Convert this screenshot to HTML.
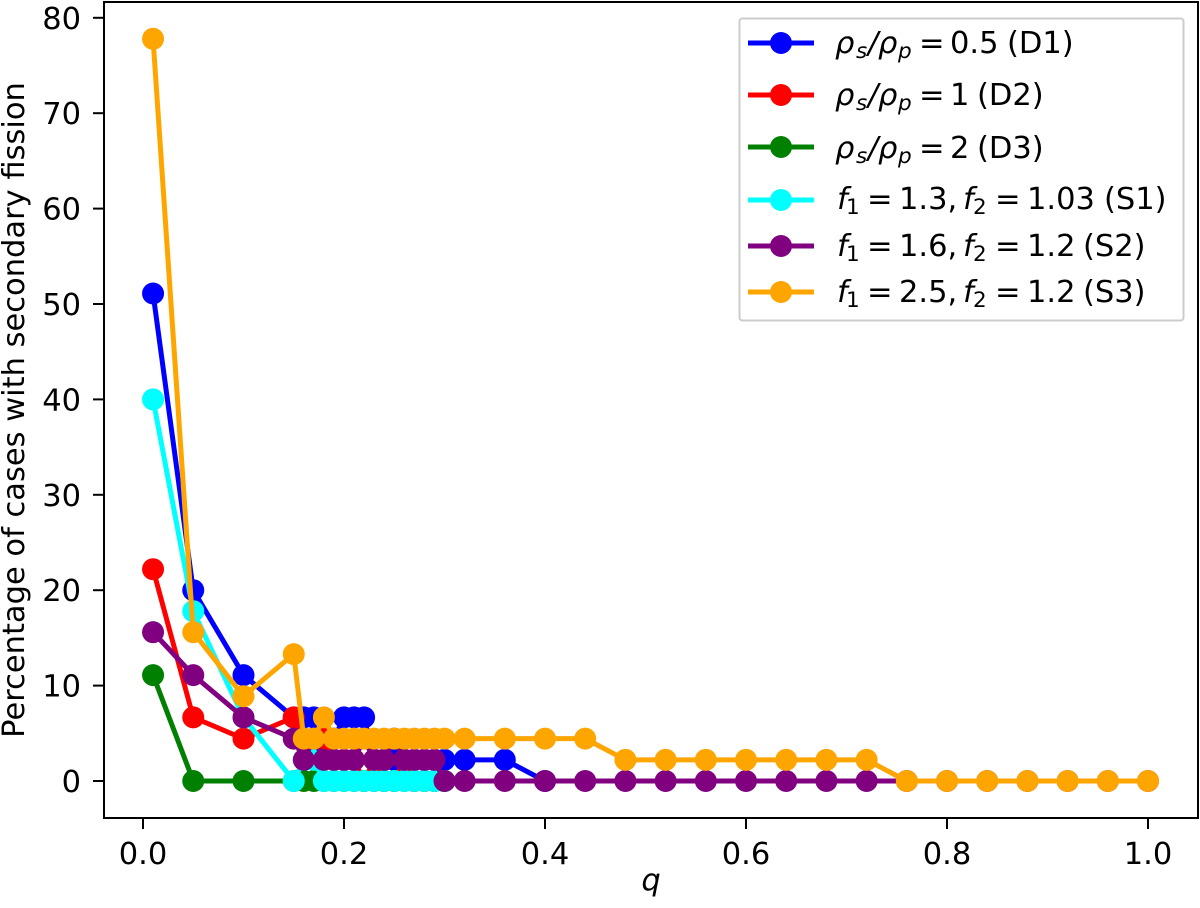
<!DOCTYPE html>
<html>
<head>
<meta charset="utf-8">
<style>
html,body{margin:0;padding:0;background:#fff;}
svg{display:block;}
text{font-family:"DejaVu Sans","Liberation Sans",sans-serif;fill:#000;}
.it{font-style:italic;}
</style>
</head>
<body>
<svg id="chart" width="1200" height="908" viewBox="0 0 1200 908" xmlns="http://www.w3.org/2000/svg">
<g id="series-layer"></g>
<g id="axes-layer"></g>
<text x="651" y="890" font-size="30.5" class="it" text-anchor="middle">q</text>
<text transform="translate(24,410) rotate(-90)" font-size="30.5" text-anchor="middle">Percentage of cases with secondary fission</text>
<g>
<rect x="739.5" y="18.5" width="444" height="302" rx="3" fill="#fff" fill-opacity="0.8" stroke="#ccc" stroke-width="2"/>
<g id="legend-handles"></g>
<text y="53" font-size="30.5"><tspan class="it" x="835">ρ</tspan><tspan class="it" font-size="21.5" x="856" dy="5">s</tspan><tspan x="868" dy="-5" class="it">/</tspan><tspan class="it" x="878">ρ</tspan><tspan class="it" font-size="21.5" x="898" dy="5">p</tspan><tspan x="919" dy="-5">=</tspan><tspan x="950">0.5</tspan><tspan x="1007">(D1)</tspan></text>
<text y="105" font-size="30.5"><tspan class="it" x="835">ρ</tspan><tspan class="it" font-size="21.5" x="856" dy="5">s</tspan><tspan x="868" dy="-5" class="it">/</tspan><tspan class="it" x="878">ρ</tspan><tspan class="it" font-size="21.5" x="898" dy="5">p</tspan><tspan x="919" dy="-5">=</tspan><tspan x="950">1</tspan><tspan x="977">(D2)</tspan></text>
<text y="158" font-size="30.5"><tspan class="it" x="835">ρ</tspan><tspan class="it" font-size="21.5" x="856" dy="5">s</tspan><tspan x="868" dy="-5" class="it">/</tspan><tspan class="it" x="878">ρ</tspan><tspan class="it" font-size="21.5" x="898" dy="5">p</tspan><tspan x="919" dy="-5">=</tspan><tspan x="950">2</tspan><tspan x="977">(D3)</tspan></text>
<text y="209" font-size="30.5"><tspan class="it" x="837">f</tspan><tspan font-size="21.5" x="846" dy="5">1</tspan><tspan x="867" dy="-5">=</tspan><tspan x="899">1.3,</tspan><tspan class="it" x="963">f</tspan><tspan font-size="21.5" x="973" dy="5">2</tspan><tspan x="995" dy="-5">=</tspan><tspan x="1027">1.03</tspan><tspan x="1104">(S1)</tspan></text>
<text y="256" font-size="30.5"><tspan class="it" x="837">f</tspan><tspan font-size="21.5" x="846" dy="5">1</tspan><tspan x="867" dy="-5">=</tspan><tspan x="899">1.6,</tspan><tspan class="it" x="963">f</tspan><tspan font-size="21.5" x="973" dy="5">2</tspan><tspan x="995" dy="-5">=</tspan><tspan x="1027">1.2</tspan><tspan x="1083">(S2)</tspan></text>
<text y="302" font-size="30.5"><tspan class="it" x="837">f</tspan><tspan font-size="21.5" x="846" dy="5">1</tspan><tspan x="867" dy="-5">=</tspan><tspan x="899">2.5,</tspan><tspan class="it" x="963">f</tspan><tspan font-size="21.5" x="973" dy="5">2</tspan><tspan x="995" dy="-5">=</tspan><tspan x="1027">1.2</tspan><tspan x="1083">(S3)</tspan></text>
</g>
</svg>
<script>
const xTickLabels = ["0.0","0.2","0.4","0.6","0.8","1.0"];
const yTickLabels = ["0","10","20","30","40","50","60","70","80"];

const seriesNames = ["d1","d2","d3","s1","s2","s3"];
const seriesColors = ["blue","red","green","cyan","purple","orange"];

const qShort = [0.01,0.05,0.1,0.15,0.16,0.17,0.18,0.19,0.2,0.21,0.22,0.23,0.24,0.25,0.26,0.27,0.28,0.29,0.3];
const qD1 = [0.01,0.05,0.1,0.15,0.16,0.17,0.18,0.19,0.2,0.21,0.22,0.23,0.24,0.25,0.26,0.27,0.28,0.29,0.3,0.32,0.36,0.4];
const qFull = [0.01,0.05,0.1,0.15,0.16,0.17,0.18,0.19,0.2,0.21,0.22,0.23,0.24,0.25,0.26,0.27,0.28,0.29,0.3,0.32,0.36,0.4,0.44,0.48,0.52,0.56,0.6,0.64,0.68,0.72,0.76,0.8,0.84,0.88,0.92,0.96,1.0];

const valuesD1 = [51.1,20,11.1,6.67,6.67,6.67,4.44,4.44,6.67,6.67,6.67,2.22,2.22,2.22,2.22,2.22,2.22,2.22,2.22,2.22,2.22,0];
const valuesD2 = [22.2,6.67,4.44,6.67,4.44,4.44,4.44,2.22,2.22,2.22,0,2.22,0,0,2.22,0,0,0,0];
const valuesD3 = [11.1,0,0,0,0,0,0,0,0,0,0,0,0,0,0,0,0,0,0];
const valuesS1 = [40,17.8,6.67,0,2.22,2.22,0,0,0,0,0,0,0,0,0,0,0,0,0];
const valuesS2 = [15.6,11.1,6.67,4.44,2.22,4.44,2.22,2.22,2.22,2.22,4.44,2.22,2.22,4.44,2.22,2.22,2.22,2.22,0,0,0,0,0,0,0,0,0,0,0,0,0,0,0,0,0,0,0];
const valuesS3 = [77.8,15.6,8.89,13.3,4.44,4.44,6.67,4.44,4.44,4.44,4.44,4.44,4.44,4.44,4.44,4.44,4.44,4.44,4.44,4.44,4.44,4.44,4.44,2.22,2.22,2.22,2.22,2.22,2.22,2.22,0,0,0,0,0,0,0];

const seriesQ = [qD1,qShort,qShort,qShort,qFull,qFull];
const seriesValues = [valuesD1,valuesD2,valuesD3,valuesS1,valuesS2,valuesS3];

const NS = "http://www.w3.org/2000/svg";
function xScale(q){ return 143 + q * 1005; }
function yScale(v){ return 781 - v * 9.54; }

const seriesLayer = document.getElementById("series-layer");
seriesNames.forEach(function(name, i){
  const g = document.createElementNS(NS, "g");
  
  
  const qs = seriesQ[i];
  const vs = seriesValues[i];
  const line = document.createElementNS(NS, "polyline");
  
  
  line.setAttribute("points", qs.map(function(q, k){ return xScale(q) + "," + yScale(vs[k]); }).join(" "));
  line.setAttribute("fill", "none");
  line.setAttribute("stroke", seriesColors[i]);
  line.setAttribute("stroke-width", "5");
  line.setAttribute("stroke-linejoin", "round");
  g.appendChild(line);
  qs.forEach(function(q, k){
    const c = document.createElementNS(NS, "circle");
    
    
    c.setAttribute("cx", xScale(q));
    c.setAttribute("cy", yScale(vs[k]));
    c.setAttribute("r", "11");
    c.setAttribute("fill", seriesColors[i]);
    g.appendChild(c);
  });
  seriesLayer.appendChild(g);
});

const axes = document.getElementById("axes-layer");
const frame = document.createElementNS(NS, "rect");


frame.setAttribute("x", "104");
frame.setAttribute("y", "2");
frame.setAttribute("width", "1094");
frame.setAttribute("height", "816");
frame.setAttribute("fill", "none");
frame.setAttribute("stroke", "#000");
frame.setAttribute("stroke-width", "2");
axes.appendChild(frame);

xTickLabels.forEach(function(label){
  const x = xScale(parseFloat(label));
  const t = document.createElementNS(NS, "line");
  
  
  t.setAttribute("x1", x);
  t.setAttribute("x2", x);
  t.setAttribute("y1", "818");
  t.setAttribute("y2", "829");
  t.setAttribute("stroke", "#000");
  t.setAttribute("stroke-width", "2");
  axes.appendChild(t);
  const txt = document.createElementNS(NS, "text");
  
  
  txt.setAttribute("x", x);
  txt.setAttribute("y", "864");
  txt.setAttribute("font-size", "30.5");
  txt.setAttribute("text-anchor", "middle");
  txt.textContent = label;
  axes.appendChild(txt);
});

yTickLabels.forEach(function(label){
  const y = yScale(parseFloat(label));
  const t = document.createElementNS(NS, "line");
  
  
  t.setAttribute("x1", "93");
  t.setAttribute("x2", "104");
  t.setAttribute("y1", y);
  t.setAttribute("y2", y);
  t.setAttribute("stroke", "#000");
  t.setAttribute("stroke-width", "2");
  axes.appendChild(t);
  const txt = document.createElementNS(NS, "text");
  
  
  txt.setAttribute("x", "81");
  txt.setAttribute("y", y + 11);
  txt.setAttribute("font-size", "30.5");
  txt.setAttribute("text-anchor", "end");
  txt.textContent = label;
  axes.appendChild(txt);
});

const legendRows = [43,95,147,200,246,292];
const handles = document.getElementById("legend-handles");
seriesNames.forEach(function(name, i){
  const l = document.createElementNS(NS, "line");
  
  
  l.setAttribute("x1", "748");
  l.setAttribute("x2", "814");
  l.setAttribute("y1", legendRows[i]);
  l.setAttribute("y2", legendRows[i]);
  l.setAttribute("stroke", seriesColors[i]);
  l.setAttribute("stroke-width", "5");
  handles.appendChild(l);
  const c = document.createElementNS(NS, "circle");
  
  
  c.setAttribute("cx", "781");
  c.setAttribute("cy", legendRows[i]);
  c.setAttribute("r", "11");
  c.setAttribute("fill", seriesColors[i]);
  handles.appendChild(c);
});
</script>
</body>
</html>
